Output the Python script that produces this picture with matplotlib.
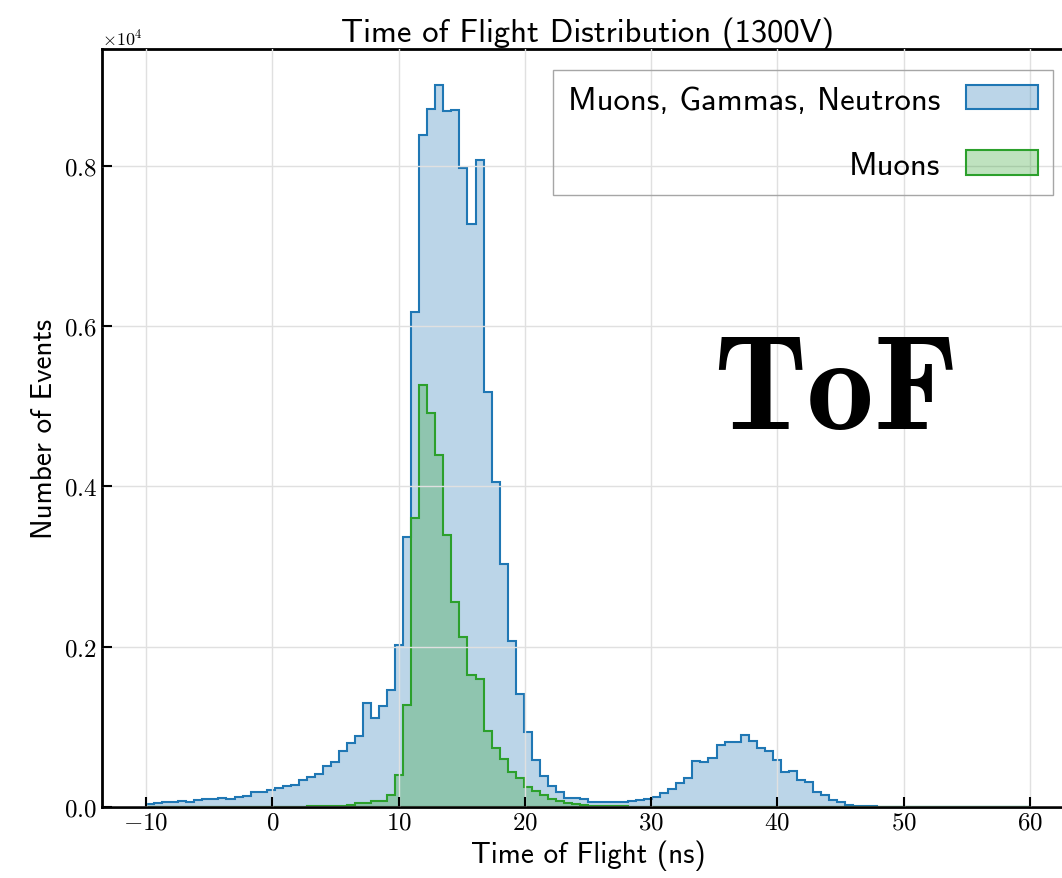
import numpy as np
import matplotlib.pyplot as plt
from matplotlib.colors import to_rgba

# Histogram de tiempo de vuelo: 110 bins entre -10 y 60 ns
t_min = -10
t_max = 60
n_bins = 110

# cuentas por bin (todas las particulas)
cuentas_todas = [
    40, 55, 62, 62, 80, 62, 83, 96, 100, 112,
    100, 125, 133, 185, 185, 210, 233, 265, 275, 342,
    372, 417, 506, 562, 702, 800, 882, 1300, 1104, 1255,
    1455, 2022, 3362, 6177, 8378, 8702, 9003, 8685, 8691, 7971,
    7269, 8065, 5170, 4047, 3027, 2072, 1410, 940, 588, 384,
    259, 184, 113, 110, 100, 58, 63, 67, 67, 63,
    75, 83, 96, 127, 173, 223, 296, 358, 569, 555,
    611, 767, 815, 805, 892, 820, 734, 692, 588, 438,
    450, 338, 317, 188, 146, 92, 67, 29, 17, 17,
    8, 5, 5, 4, 4, 4, 3, 3, 3, 3,
    3, 2, 2, 2, 2, 2, 2, 2, 2, 2,
]

# cuentas por bin (solo muones)
cuentas_muones = [
    0, 0, 0, 0, 0, 0, 0, 0, 0, 0,
    0, 0, 0, 0, 0, 0, 0, 2, 3, 4,
    6, 8, 10, 12, 17, 25, 50, 55, 75, 78,
    150, 400, 1270, 3600, 5257, 4909, 4396, 3398, 2557, 2122,
    1650, 1594, 942, 730, 594, 441, 367, 246, 196, 146,
    100, 71, 50, 42, 21, 17, 12, 8, 8, 6,
    4, 3, 2, 1, 1, 1, 1, 1, 1, 1,
    1, 1, 1, 1, 1, 1, 1, 1, 1, 1,
    1, 1, 1, 1, 1, 1, 1, 1, 1, 0,
    0, 0, 0, 0, 0, 0, 0, 0, 0, 0,
    0, 0, 0, 0, 0, 0, 0, 0, 0, 0,
]

etiquetas = ['Muons, Gammas, Neutrons', 'Muons']
colores = ['tab:blue', 'tab:green']

plt.rcParams['font.family'] = 'cmr10'
plt.rcParams['mathtext.fontset'] = 'cm'
plt.rcParams['axes.formatter.use_mathtext'] = True

bordes = np.linspace(t_min, t_max, n_bins + 1)
centros = (bordes[:-1] + bordes[1:]) / 2

fig = plt.figure(figsize=(10.62, 8.79), dpi=100)
ax = fig.add_axes([0.096, 0.0808, 0.9153, 0.8623])

for cuentas, etiqueta, color in zip([cuentas_todas, cuentas_muones], etiquetas, colores):
    ax.hist(centros, bins=bordes, weights=cuentas, histtype='stepfilled',
            facecolor=to_rgba(color, 0.3), edgecolor=color, linewidth=1.5,
            label=etiqueta)

ax.grid(True, color='0.88', linewidth=1)
ax.set_axisbelow(False)

ax.tick_params(direction='in', length=7, width=1.5, labelsize=18)
ax.set_xticks([-10, 0, 10, 20, 30, 40, 50, 60])
ax.ticklabel_format(axis='y', style='sci', scilimits=(4, 4))
ax.yaxis.get_offset_text().set_fontsize(13)
for s in ax.spines.values():
    s.set_linewidth(2)

ax.set_title('Time of Flight Distribution (1300V)', fontfamily='cmss10', fontsize=23.5)
ax.set_xlabel('Time of Flight (ns)', fontfamily='cmss10', fontsize=21)
ax.set_ylabel('Number of Events', fontfamily='cmss10', fontsize=21)

ax.text(0.755, 0.5, 'ToF', transform=ax.transAxes, ha='center', va='baseline',
        fontfamily='cmb10', fontsize=97)

ax.legend(loc='upper right', markerfirst=False, fancybox=False,
          prop={'family': 'cmss10', 'size': 23.5}, facecolor='none',
          edgecolor='0.65', framealpha=1, labelspacing=1.1, borderpad=0.45,
          handlelength=2.2, handleheight=0.78, borderaxespad=0.65)

plt.savefig('out.png')
